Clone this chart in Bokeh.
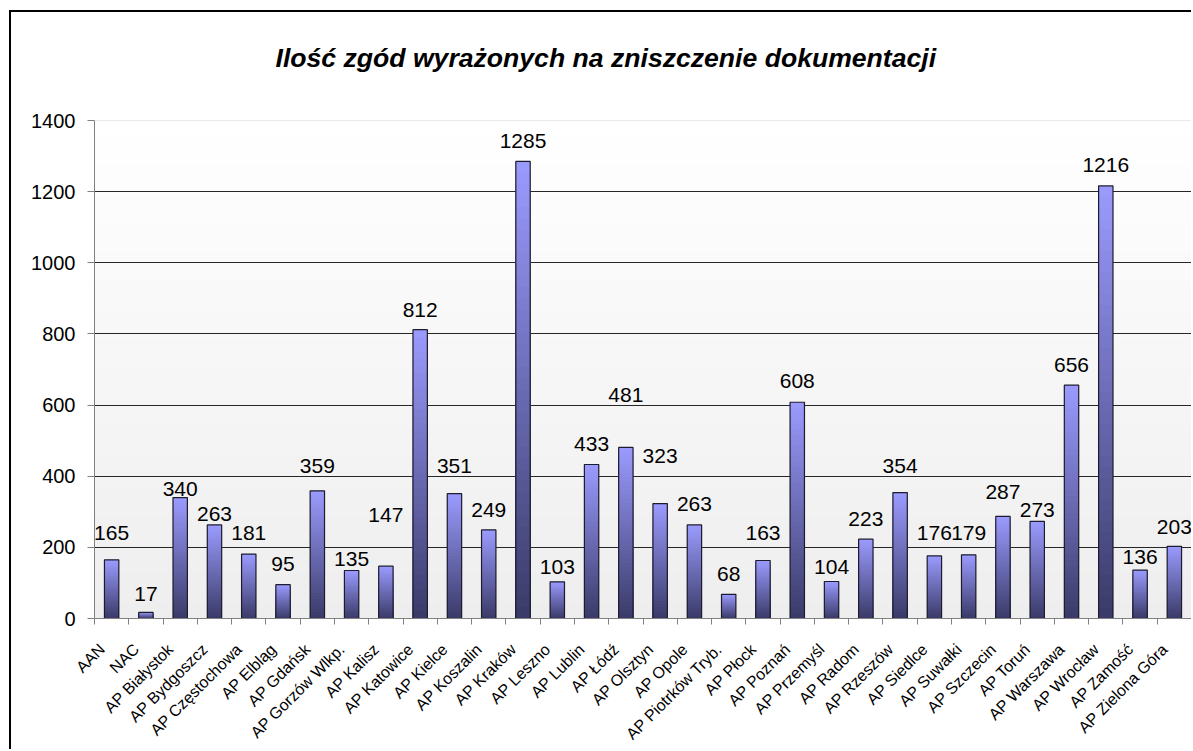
import math
import numpy as np
from bokeh.plotting import figure
from bokeh.models import Range1d, FixedTicker, Span
from bokeh.core.properties import value
from bokeh.embed import file_html
from bokeh.resources import INLINE

categories = ["AAN", "NAC", "AP Białystok", "AP Bydgoszcz", "AP Częstochowa", "AP Elbląg",
              "AP Gdańsk", "AP Gorzów Wlkp.", "AP Kalisz", "AP Katowice", "AP Kielce",
              "AP Koszalin", "AP Kraków", "AP Leszno", "AP Lublin", "AP Łódź", "AP Olsztyn",
              "AP Opole", "AP Piotrków Tryb.", "AP Płock", "AP Poznań", "AP Przemyśl",
              "AP Radom", "AP Rzeszów", "AP Siedlce", "AP Suwałki", "AP Szczecin", "AP Toruń",
              "AP Warszawa", "AP Wrocław", "AP Zamość", "AP Zielona Góra"]
values = [165, 17, 340, 263, 181, 95, 359, 135, 147, 812, 351, 249, 1285, 103, 433, 481,
          323, 263, 68, 163, 608, 104, 223, 354, 176, 179, 287, 273, 656, 1216, 136, 203]
# vertical position (data units) of each value label, as placed in the original chart
label_y = [239, 70, 365, 294, 239, 153, 428, 166, 290, 867, 430, 304, 1341, 146, 491, 629,
           458, 321, 124, 239, 667, 146, 281, 428, 239, 239, 356, 306, 713, 1275, 174, 258]
y_ticks = [0, 200, 400, 600, 800, 1000, 1200, 1400]
title_text = "Ilość zgód wyrażonych na zniszczenie dokumentacji"

FONT = "Liberation Sans"
n = len(categories)
centers = [i + 0.5 for i in range(n)]
# rotated category labels sit slightly left of the category centre
label_ticks = [c - 0.28 for c in centers]

p = figure(width=1182, height=739, x_range=Range1d(0, n), y_range=Range1d(0, 1400),
           output_backend="svg", toolbar_location=None,
           min_border_left=83, min_border_right=2, min_border_top=108, min_border_bottom=131)
p.margin = (10, 0, 0, 9)
p.styles = {"border-left": "2px solid #000000", "border-top": "2px solid #000000"}
p.background_fill_color = "white"
p.border_fill_color = "white"
p.outline_line_color = None

# plot-area background gradient (white at top to light grey at bottom)
rows = 200
tt = np.linspace(0.0, 1.0, rows)
g = (238 + 17 * tt).round().astype(np.uint8)
img = np.empty((rows, 1), dtype=np.uint32)
view = img.view(dtype=np.uint8).reshape((rows, 1, 4))
view[:, 0, 0] = g
view[:, 0, 1] = g
view[:, 0, 2] = g
view[:, 0, 3] = 255
p.image_rgba(image=[img], x=0, y=0, dw=n, dh=1400, level="image")

# bars with vertical gradient: stacked overlapping rectangles, light at top, dark at bottom
N = 40
top_c = np.array([155, 155, 255])
bot_c = np.array([58, 58, 104])
xs, tops, cols = [], [], []
for k in range(N):
    frac = (N - k) / N
    t = (N - k - 0.5) / N
    c = bot_c + (top_c - bot_c) * t
    hexc = "#%02x%02x%02x" % tuple(int(round(v)) for v in c)
    for i, v in enumerate(values):
        xs.append(centers[i])
        tops.append(v * frac)
        cols.append(hexc)
BW = 0.42
p.vbar(x=xs, top=tops, bottom=0, width=BW, fill_color=cols, line_color=None)
p.vbar(x=centers, top=values, bottom=0, width=BW, fill_color=None,
       line_color="#1c1c2c", line_width=1.2)

p.text(x=centers, y=label_y, text=[str(v) for v in values], text_align="center",
       text_baseline="middle", text_font=value(FONT), text_font_size="21px",
       text_color="#000000")

p.add_layout(Span(location=1400, dimension="width", line_color="#d4d4d4", line_width=1))

# grid
p.xgrid.visible = False
p.ygrid.ticker = FixedTicker(ticks=y_ticks[1:-1])
p.ygrid.grid_line_color = "#262626"
p.ygrid.grid_line_width = 1

# x axis
p.xaxis.ticker = FixedTicker(ticks=label_ticks, minor_ticks=list(range(n + 1)))
p.xaxis.major_label_overrides = {c: name for c, name in zip(label_ticks, categories)}
p.xaxis.major_tick_line_color = None
p.xaxis.minor_tick_line_color = "#808080"
p.xaxis.minor_tick_in = 0
p.xaxis.minor_tick_out = 6
p.xaxis.axis_line_color = "#808080"
p.xaxis.major_label_orientation = math.pi / 4
p.xaxis.major_label_text_font = FONT
p.xaxis.major_label_text_font_size = "16px"
p.xaxis.major_label_text_line_height = 1.0
p.xaxis.major_label_text_color = "#000000"
p.xaxis.major_label_standoff = 22

# y axis
p.yaxis.ticker = FixedTicker(ticks=y_ticks)
p.yaxis.minor_tick_line_color = None
p.yaxis.major_tick_in = 0
p.yaxis.major_tick_out = 7
p.yaxis.major_tick_line_color = "#808080"
p.yaxis.axis_line_color = "#808080"
p.yaxis.major_label_text_font = FONT
p.yaxis.major_label_text_font_size = "20px"
p.yaxis.major_label_text_color = "#000000"
p.yaxis.major_label_standoff = 12

# title (a blank second line lifts it further above the plot area)
p.title.text = title_text + "\n "
p.title.align = "left"
p.title.offset = 181
p.title.text_font = FONT
p.title.text_font_style = "bold italic"
p.title.text_font_size = "26.6px"
p.title.text_color = "#000000"
p.title.standoff = 36

open("out.html", "w").write(file_html(p, INLINE))
